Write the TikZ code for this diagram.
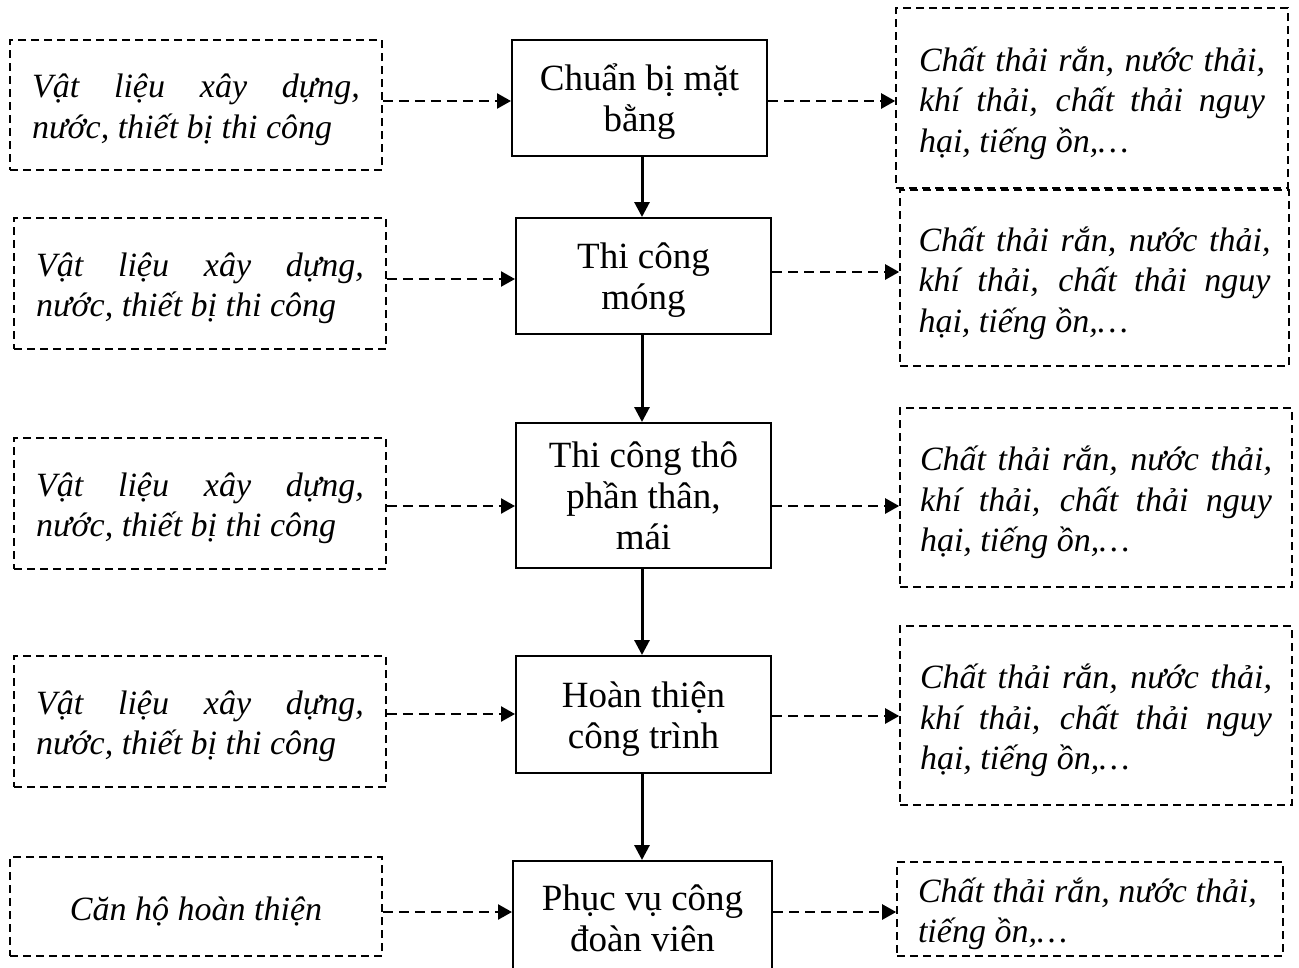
\documentclass[tikz,border=0pt]{standalone}
\usepackage{fontspec}
\setmainfont{Liberation Serif}
\usetikzlibrary{arrows.meta}
\begin{document}
\begin{tikzpicture}[x=1pt,y={(0,-1pt)},
  proc/.style={draw, line width=2pt, inner sep=0pt, align=center,
    font=\fontsize{37}{41}\selectfont},
  side/.style={draw, dash pattern=on 8pt off 5pt, line width=1.6pt, inner sep=0pt,
    font=\fontsize{34}{40.5}\selectfont\itshape},
  darr/.style={line width=2.4pt, dash pattern=on 10pt off 6pt,
    -{Triangle[length=14pt,width=15pt]}},
  varr/.style={line width=3pt, -{Triangle[length=15pt,width=15pt]}}
]
\useasboundingbox (0,0) rectangle (1299,967);
\clip (0,0) rectangle (1299,967);
\newcommand{\dn}[1]{\raisebox{-5pt}[\height][\depth]{#1}}
\newcommand{\lefttxt}{\dn{\parbox{328pt}{\makebox[328pt][s]{Vật liệu xây dựng,}\\nước, thiết bị thi công}}}
\newcommand{\righttxt}[1]{\dn{\parbox{#1}{\makebox[#1][s]{Chất thải rắn, nước thải,}\\\makebox[#1][s]{khí thải, chất thải nguy}\\hại, tiếng ồn,…}}}
% centre column
\node[proc, minimum width=255pt, minimum height=116pt] (cb1) at (639.5,98) {\dn{\begin{tabular}{@{}c@{}}Chuẩn bị mặt\\bằng\end{tabular}}};
\node[proc, minimum width=255pt, minimum height=116pt] (cb2) at (643.5,276) {\dn{\begin{tabular}{@{}c@{}}Thi công\\móng\end{tabular}}};
\node[proc, minimum width=255pt, minimum height=145pt] (cb3) at (643.5,495.5) {\dn{\begin{tabular}{@{}c@{}}Thi công thô\\phần thân,\\mái\end{tabular}}};
\node[proc, minimum width=255pt, minimum height=117pt] (cb4) at (643.5,714.5) {\dn{\begin{tabular}{@{}c@{}}Hoàn thiện\\công trình\end{tabular}}};
\node[proc, minimum width=259pt, minimum height=114pt] (cb5) at (642.5,918) {\dn{\begin{tabular}{@{}c@{}}Phục vụ công\\đoàn viên\end{tabular}}};
% left column
\node[side, minimum width=372pt, minimum height=130pt] (lb1) at (196,105) {\lefttxt};
\node[side, minimum width=372pt, minimum height=131pt] (lb2) at (200,283.5) {\lefttxt};
\node[side, minimum width=372pt, minimum height=131pt] (lb3) at (200,503.5) {\lefttxt};
\node[side, minimum width=372pt, minimum height=131pt] (lb4) at (200,721.5) {\lefttxt};
\node[side, minimum width=372pt, minimum height=99pt] (lb5) at (196,906.5) {\dn{Căn hộ hoàn thiện}};
% right column
\node[side, minimum width=392pt, minimum height=180pt] (rb1) at (1092,98) {\righttxt{346pt}};
\node[side, minimum width=389pt, minimum height=176pt] (rb2) at (1094.5,278) {\righttxt{352pt}};
\node[side, minimum width=392pt, minimum height=179pt] (rb3) at (1096,497.5) {\righttxt{352pt}};
\node[side, minimum width=392pt, minimum height=179pt] (rb4) at (1096,715.5) {\righttxt{352pt}};
\node[side, minimum width=386pt, minimum height=94pt] (rb5) at (1090,909) {\dn{\parbox{344pt}{Chất thải rắn, nước thải,\\tiếng ồn,…}}};
% vertical arrows
\coordinate (axis) at (642,0);
\draw[varr] (cb1.south -| axis) -- (cb2.north -| axis);
\draw[varr] (cb2.south -| axis) -- (cb3.north -| axis);
\draw[varr] (cb3.south -| axis) -- (cb4.north -| axis);
\draw[varr] (cb4.south -| axis) -- (cb5.north -| axis);
% inputs
\draw[darr] (lb1.east |- 0,101) -- (cb1.west |- 0,101);
\draw[darr] (lb2.east |- 0,279) -- (cb2.west |- 0,279);
\draw[darr] (lb3.east |- 0,506) -- (cb3.west |- 0,506);
\draw[darr] (lb4.east |- 0,714) -- (cb4.west |- 0,714);
\draw[darr] (lb5.east |- 0,912) -- (cb5.west |- 0,912);
% outputs
\draw[darr] (cb1.east |- 0,101) -- (rb1.west |- 0,101);
\draw[darr] (cb2.east |- 0,272) -- (rb2.west |- 0,272);
\draw[darr] (cb3.east |- 0,506) -- (rb3.west |- 0,506);
\draw[darr] (cb4.east |- 0,716) -- (rb4.west |- 0,716);
\draw[darr] (cb5.east |- 0,912) -- (rb5.west |- 0,912);
\end{tikzpicture}
\end{document}
